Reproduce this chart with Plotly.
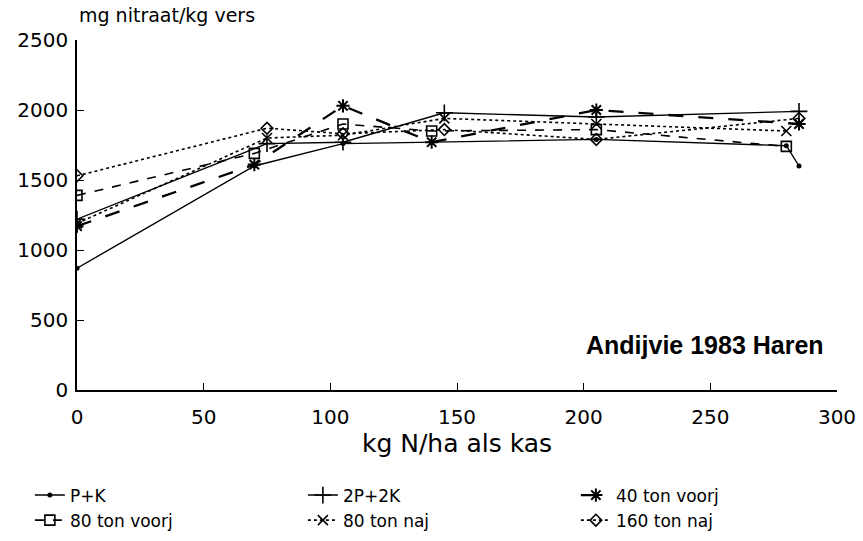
import plotly.graph_objects as go

# Data
PK_x = [0, 70, 105, 140, 205, 280, 285]
PK_y = [870, 1600, 1760, 1770, 1790, 1745, 1600]
P2K_x = [0, 75, 105, 145, 205, 285]
P2K_y = [1220, 1760, 1770, 1980, 1950, 1990]
V40_x = [0, 70, 105, 140, 205, 285]
V40_y = [1170, 1610, 2030, 1770, 2000, 1900]
V80_x = [0, 70, 105, 140, 205, 280]
V80_y = [1390, 1690, 1900, 1850, 1860, 1740]
N80_x = [0, 75, 105, 145, 205, 280]
N80_y = [1190, 1800, 1820, 1940, 1900, 1850]
N160_x = [0, 75, 105, 145, 205, 285]
N160_y = [1530, 1870, 1830, 1860, 1790, 1940]

series = [
    ("P+K", PK_x, PK_y, dict(dash="solid", width=1.4), dict(symbol="circle", size=5)),
    ("2P+2K", P2K_x, P2K_y, dict(dash="solid", width=1.4), dict(symbol="cross-thin", size=12, line=dict(width=1.6, color="black"))),
    ("40 ton voorj", V40_x, V40_y, dict(dash="longdash", width=2.3), dict(symbol="asterisk", size=11, line=dict(width=2, color="black"))),
    ("80 ton voorj", V80_x, V80_y, dict(dash="dash", width=1.6), dict(symbol="square-open", size=10, line=dict(width=1.6, color="black"))),
    ("80 ton naj", N80_x, N80_y, dict(dash="dot", width=1.6), dict(symbol="x-thin", size=10, line=dict(width=1.6, color="black"))),
    ("160 ton naj", N160_x, N160_y, dict(dash="dot", width=1.6), dict(symbol="diamond-open", size=9, line=dict(width=1.6, color="black"))),
]

fig = go.Figure()
for name, xs, ys, ln, mk in series:
    fig.add_trace(go.Scatter(
        x=xs, y=ys, name=name, mode="lines+markers",
        line=dict(color="black", **ln),
        marker=dict(color="black", **mk),
    ))

FONT = "DejaVu Sans, Liberation Sans, sans-serif"
BOLD = "Liberation Sans, Arial, sans-serif"
fig.update_layout(
    width=863, height=541,
    margin=dict(l=77, r=26, t=40, b=151, autoexpand=False),
    plot_bgcolor="white", paper_bgcolor="white",
    font=dict(family=FONT, color="black", size=17),
    showlegend=True,
    legend=dict(
        orientation="h",
        x=-0.062, y=-0.25, xanchor="left", yanchor="top",
        entrywidth=228, entrywidthmode="pixels",
        font=dict(size=17, family=FONT),
        itemwidth=30, tracegroupgap=4,
    ),
    xaxis=dict(
        range=[0, 300], dtick=50, tick0=0,
        showline=True, linecolor="black", linewidth=1.5,
        ticks="inside", ticklen=7, tickcolor="black",
        showgrid=False, zeroline=False,
        tickfont=dict(size=20), ticklabelstandoff=8,
        title=dict(text="kg N/ha als kas", font=dict(size=25), standoff=4),
    ),
    yaxis=dict(
        range=[0, 2500], dtick=500, tick0=0,
        showline=True, linecolor="black", linewidth=1.5,
        ticks="inside", ticklen=7, tickcolor="black",
        showgrid=False, zeroline=False,
        tickfont=dict(size=20), ticklabelstandoff=3,
    ),
    annotations=[
        dict(text="mg nitraat/kg vers", xref="paper", yref="paper",
             x=0.0, y=1.0, yshift=12, xanchor="left", yanchor="bottom",
             showarrow=False, font=dict(size=19)),
        dict(text="<b>Andijvie 1983 Haren</b>", xref="paper", yref="paper",
             x=0.985, y=0.13, xanchor="right", yanchor="middle",
             showarrow=False, font=dict(size=25, family=BOLD)),
    ],
)

fig.write_html("out.html")
